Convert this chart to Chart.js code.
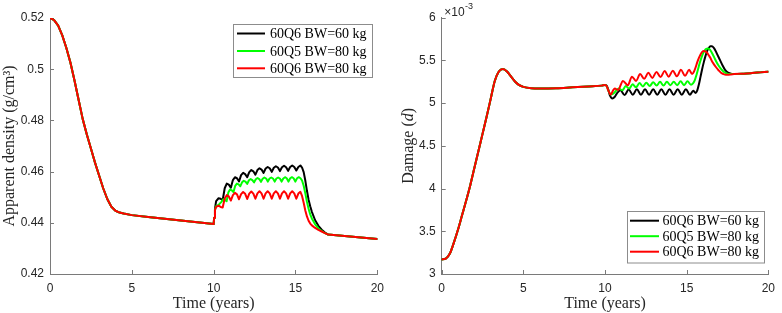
<!DOCTYPE html>
<html><head><meta charset="utf-8">
<script src="https://cdn.jsdelivr.net/npm/chart.js@4.4.1/dist/chart.umd.min.js"></script>
<style>
html,body{margin:0;padding:0;background:#fff;}
#wrap{position:relative;width:782px;height:313px;overflow:hidden;background:#fff;}
.box{position:absolute;top:0;width:391px;height:313px;}
canvas{display:block;}
</style></head><body>
<div id="wrap">
<div class="box" style="left:0"><canvas id="cDensity" width="391" height="313"></canvas></div>
<div class="box" style="left:391px"><canvas id="cDamage" width="391" height="313"></canvas></div>
</div>
<script>
// ---------- labels ----------
const seriesLabels = ['60Q6 BW=60 kg', '60Q5 BW=80 kg', '60Q6 BW=80 kg'];
const seriesColors = ['#000000', '#00ff00', '#ff0000'];
const timeTitle = 'Time (years)';
const densityTitle = 'Apparent density (g/cm³)';

// ---------- apparent density (g/cm^3) ----------
// common part, all three series, 0..10 years
const densPreT = [0, 0.25, 0.5, 0.75, 1, 1.25, 1.5, 1.75, 2, 2.25, 2.5, 2.75, 3, 3.25, 3.5, 3.75, 4, 4.25, 4.5, 5, 6, 7, 8, 9, 10];
const densPre = [0.5200, 0.5192, 0.5170, 0.5132, 0.5083, 0.5025, 0.4955, 0.4880, 0.4805, 0.4745, 0.4690, 0.4635, 0.4585, 0.4535, 0.4493, 0.4463, 0.4447, 0.4440, 0.4436, 0.4430, 0.4423, 0.4416, 0.4409, 0.4402, 0.4395];
// 60Q6 BW=60 kg and 60Q6 BW=80 kg, 10..17 years
const densQ6T = [10.03, 10.08, 10.15, 10.3, 10.425, 10.55, 10.675, 10.8, 10.925, 11.05, 11.175, 11.3, 11.425, 11.55, 11.675, 11.8, 11.925, 12.05, 12.175, 12.3, 12.425, 12.55, 12.675, 12.8, 12.925, 13.05, 13.175, 13.3, 13.425, 13.55, 13.675, 13.8, 13.925, 14.05, 14.175, 14.3, 14.425, 14.55, 14.675, 14.8, 14.925, 15.05, 15.175, 15.3, 15.4, 15.5, 15.6, 15.7, 15.8, 15.9, 16.0, 16.2, 16.4, 16.6, 16.8];
const densBW60 = [0.4420, 0.4455, 0.4485, 0.4496, 0.4494, 0.4488, 0.4535, 0.4553, 0.4549, 0.4537, 0.4567, 0.4578, 0.4574, 0.4562, 0.4586, 0.4595, 0.4590, 0.4578, 0.4598, 0.4606, 0.4601, 0.4588, 0.4606, 0.4613, 0.4608, 0.4595, 0.4612, 0.4618, 0.4613, 0.4599, 0.4615, 0.4621, 0.4616, 0.4602, 0.4617, 0.4623, 0.4617, 0.4603, 0.4618, 0.4624, 0.4618, 0.4604, 0.4618, 0.4624, 0.4616, 0.4598, 0.4565, 0.4525, 0.4490, 0.4465, 0.4443, 0.4410, 0.4388, 0.4373, 0.4362];
const densQ6BW80 = [0.4420, 0.4450, 0.4462, 0.4467, 0.4462, 0.4460, 0.4495, 0.4508, 0.4503, 0.4487, 0.4508, 0.4517, 0.4511, 0.4492, 0.4512, 0.4520, 0.4513, 0.4493, 0.4514, 0.4522, 0.4514, 0.4494, 0.4515, 0.4523, 0.4515, 0.4494, 0.4515, 0.4523, 0.4515, 0.4494, 0.4515, 0.4523, 0.4515, 0.4494, 0.4515, 0.4523, 0.4515, 0.4494, 0.4515, 0.4523, 0.4515, 0.4494, 0.4514, 0.4521, 0.4505, 0.4478, 0.4448, 0.4425, 0.4408, 0.4397, 0.4390, 0.4380, 0.4372, 0.4366, 0.4360];
// 60Q5 BW=80 kg, 10..17 years
const densQ5T = [10.03, 10.08, 10.15, 10.3, 10.475, 10.58, 10.685, 10.79, 10.895, 11.0, 11.105, 11.21, 11.315, 11.42, 11.525, 11.63, 11.735, 11.84, 11.945, 12.05, 12.155, 12.26, 12.365, 12.47, 12.575, 12.68, 12.785, 12.89, 12.995, 13.1, 13.205, 13.31, 13.415, 13.52, 13.625, 13.73, 13.835, 13.94, 14.045, 14.15, 14.255, 14.36, 14.465, 14.57, 14.675, 14.78, 14.885, 14.99, 15.095, 15.2, 15.305, 15.4, 15.5, 15.6, 15.7, 15.8, 15.9, 16.0, 16.2, 16.4, 16.6, 16.8];
const densQ5BW80 = [0.4420, 0.4450, 0.4465, 0.4470, 0.4482, 0.4492, 0.4489, 0.4484, 0.4518, 0.4530, 0.4527, 0.4520, 0.4544, 0.4553, 0.4550, 0.4543, 0.4558, 0.4564, 0.4561, 0.4552, 0.4566, 0.4571, 0.4567, 0.4558, 0.4570, 0.4575, 0.4571, 0.4560, 0.4572, 0.4577, 0.4573, 0.4561, 0.4573, 0.4577, 0.4573, 0.4561, 0.4573, 0.4577, 0.4573, 0.4561, 0.4573, 0.4578, 0.4574, 0.4561, 0.4574, 0.4578, 0.4574, 0.4561, 0.4574, 0.4578, 0.4574, 0.4565, 0.4545, 0.4515, 0.4482, 0.4455, 0.4433, 0.4417, 0.4394, 0.4378, 0.4368, 0.4360];
// common part, 17..20 years
const densPostT = [17, 17.5, 18, 19, 20];
const densPost = [0.4354, 0.4351, 0.4348, 0.4343, 0.4337];

// ---------- damage (x 10^-3) ----------
const dmgPreT = [0, 0.25, 0.5, 0.75, 1, 1.25, 1.5, 1.75, 2, 2.25, 2.5, 2.75, 3, 3.25, 3.5, 3.75, 4, 4.25, 4.5, 4.75, 5, 5.5, 6, 7, 8, 9, 9.8, 10];
const dmgPre = [3.17, 3.18, 3.24, 3.37, 3.52, 3.69, 3.86, 4.04, 4.24, 4.44, 4.64, 4.84, 5.05, 5.26, 5.37, 5.40, 5.37, 5.31, 5.25, 5.21, 5.19, 5.175, 5.172, 5.175, 5.185, 5.195, 5.205, 5.212];
const dmgBW60T = [10.1, 10.2, 10.3, 10.45, 10.6, 10.75, 10.95, 11.2, 11.45, 11.7, 11.95, 12.2, 12.45, 12.7, 12.95, 13.2, 13.45, 13.7, 13.95, 14.2, 14.45, 14.7, 14.95, 15.2, 15.4, 15.55, 15.65, 15.75, 15.85, 15.95, 16.05, 16.15, 16.25, 16.35, 16.45, 16.55, 16.65, 16.75, 16.85, 16.95, 17.05, 17.2, 17.35, 17.5, 17.7];
const dmgBW60 = [5.205, 5.16, 5.09, 5.055, 5.075, 5.12, 5.150, 5.095, 5.160, 5.098, 5.162, 5.098, 5.162, 5.098, 5.162, 5.098, 5.162, 5.098, 5.162, 5.098, 5.162, 5.098, 5.162, 5.098, 5.145, 5.12, 5.15, 5.22, 5.31, 5.40, 5.48, 5.55, 5.61, 5.645, 5.665, 5.665, 5.65, 5.62, 5.58, 5.54, 5.50, 5.44, 5.39, 5.36, 5.345];
const dmgQ5T = [10.1, 10.2, 10.35, 10.5, 10.65, 10.85, 11.06, 11.27, 11.48, 11.69, 11.9, 12.11, 12.32, 12.53, 12.74, 12.95, 13.16, 13.37, 13.58, 13.79, 14.0, 14.21, 14.42, 14.63, 14.84, 15.05, 15.26, 15.4, 15.5, 15.6, 15.7, 15.8, 15.9, 16.0, 16.1, 16.2, 16.3, 16.4, 16.5, 16.6, 16.7, 16.8, 16.95, 17.1, 17.25, 17.4, 17.55, 17.7];
const dmgQ5BW80 = [5.20, 5.15, 5.10, 5.11, 5.14, 5.17, 5.15, 5.20, 5.17, 5.22, 5.185, 5.235, 5.195, 5.24, 5.20, 5.245, 5.205, 5.25, 5.205, 5.25, 5.21, 5.25, 5.21, 5.255, 5.21, 5.255, 5.215, 5.235, 5.27, 5.33, 5.40, 5.47, 5.53, 5.58, 5.615, 5.635, 5.64, 5.63, 5.605, 5.57, 5.53, 5.49, 5.44, 5.40, 5.37, 5.35, 5.34, 5.34];
const dmgQ6BW80T = [10.1, 10.2, 10.35, 10.5, 10.6, 10.8, 11.1, 11.4, 11.65, 11.9, 12.15, 12.4, 12.65, 12.9, 13.15, 13.4, 13.65, 13.9, 14.15, 14.4, 14.65, 14.9, 15.15, 15.33, 15.45, 15.55, 15.65, 15.75, 15.85, 15.95, 16.05, 16.15, 16.25, 16.35, 16.45, 16.55, 16.65, 16.8, 16.95, 17.1, 17.25, 17.4, 17.55, 17.7];
const dmgQ6BW80 = [5.20, 5.15, 5.10, 5.15, 5.17, 5.155, 5.26, 5.21, 5.31, 5.26, 5.34, 5.285, 5.355, 5.295, 5.365, 5.305, 5.375, 5.31, 5.38, 5.315, 5.39, 5.32, 5.39, 5.34, 5.37, 5.42, 5.48, 5.53, 5.57, 5.60, 5.61, 5.605, 5.59, 5.56, 5.53, 5.49, 5.46, 5.42, 5.385, 5.355, 5.34, 5.332, 5.332, 5.336];
const dmgPostT = [17.9, 18.5, 19, 19.5, 20];
const dmgPost = [5.34, 5.345, 5.352, 5.36, 5.368];

// ---------- helpers ----------
function zip(ts, vs, name) {
  if (ts.length !== vs.length) console.error('length mismatch ' + name + ': ' + ts.length + ' vs ' + vs.length);
  const out = [];
  for (let i = 0; i < Math.min(ts.length, vs.length); i++) out.push({x: ts[i], y: vs[i]});
  return out;
}
function series(preT, pre, midT, mid, postT, post, name) {
  return zip(preT, pre, name + 'pre').concat(zip(midT, mid, name), zip(postT, post, name + 'post'));
}
function fmtTick(v) { return String(Number(Number(v).toFixed(4))); }

const TICK = '#262626';
const AXIS = '#7a7a7a';
const SANS = '"Liberation Sans", Arial, sans-serif';
const SERIF = '"Liberation Serif", "Times New Roman", serif';

const inwardTicks = {
  id: 'inwardTicks',
  beforeDatasetsDraw(chart) {
    const {ctx, chartArea: a, scales: {x, y}} = chart;
    ctx.save();
    ctx.strokeStyle = AXIS; ctx.lineWidth = 1;
    ctx.beginPath();
    x.ticks.forEach(t => { const px = Math.round(x.getPixelForValue(t.value)) + 0.5; ctx.moveTo(px, a.bottom); ctx.lineTo(px, a.bottom - 4); });
    y.ticks.forEach(t => { const py = Math.round(y.getPixelForValue(t.value)) + 0.5; ctx.moveTo(a.left, py); ctx.lineTo(a.left + 4, py); });
    ctx.stroke();
    ctx.restore();
  }
};

const boxLegend = {
  id: 'boxLegend',
  afterDatasetsDraw(chart, args, o) {
    const {ctx} = chart;
    ctx.save();
    ctx.fillStyle = '#ffffff';
    ctx.fillRect(o.x, o.y, o.w, o.h);
    ctx.strokeStyle = '#8c8c8c'; ctx.lineWidth = 1;
    ctx.strokeRect(o.x + 0.5, o.y + 0.5, o.w, o.h);
    ctx.font = '14px ' + SERIF;
    ctx.textBaseline = 'middle'; ctx.textAlign = 'left';
    chart.data.datasets.forEach((ds, i) => {
      const yy = o.rowY[i];
      ctx.strokeStyle = ds.borderColor; ctx.lineWidth = 2;
      ctx.beginPath(); ctx.moveTo(o.lineX0, yy); ctx.lineTo(o.lineX1, yy); ctx.stroke();
      ctx.fillStyle = '#000';
      ctx.fillText(ds.label, o.textX, yy + 1);
    });
    ctx.restore();
  }
};

const damageExtras = {
  id: 'damageExtras',
  afterDraw(chart) {
    const {ctx, chartArea: a} = chart;
    ctx.save();
    ctx.fillStyle = TICK;
    ctx.textAlign = 'left'; ctx.textBaseline = 'alphabetic';
    ctx.font = '12px ' + SANS;
    ctx.fillText('×10', a.left + 2.5, 16);
    const w = ctx.measureText('×10').width;
    ctx.font = '9px ' + SANS;
    ctx.fillText('-3', a.left + 2.5 + w + 0.5, 9);
    // y axis title with italic d
    const parts = [['Damage (', '16px ' + SERIF], ['d', 'italic 16px ' + SERIF], [')', '16px ' + SERIF]];
    let total = 0;
    parts.forEach(p => { ctx.font = p[1]; total += ctx.measureText(p[0]).width; });
    ctx.translate(18, (a.top + a.bottom) / 2);
    ctx.rotate(-Math.PI / 2);
    ctx.textBaseline = 'middle';
    let xx = -total / 2;
    parts.forEach(p => { ctx.font = p[1]; ctx.fillText(p[0], xx, 0); xx += ctx.measureText(p[0]).width; });
    ctx.restore();
  }
};

function makeDatasets(data, cubic) {
  return data.map((d, i) => ({
    label: seriesLabels[i],
    data: d,
    borderColor: seriesColors[i],
    backgroundColor: seriesColors[i],
    borderWidth: 2,
    pointRadius: 0,
    fill: false,
    tension: cubic ? 0.4 : 0,
    cubicInterpolationMode: cubic ? 'monotone' : 'default',
    order: 3 - i,
    borderJoinStyle: 'round',
    borderCapStyle: 'round'
  }));
}

function xScale() {
  return {
    type: 'linear', min: 0, max: 20,
    afterFit(s) { s.height = 39; },
    ticks: {stepSize: 5, color: TICK, font: {family: SANS, size: 12}, padding: 7, maxRotation: 0, callback: fmtTick},
    grid: {display: false, drawTicks: false},
    border: {display: true, color: AXIS, width: 1},
    title: {display: true, text: timeTitle, color: TICK, font: {family: SERIF, size: 16}, padding: {top: 0, bottom: 0}}
  };
}

Chart.defaults.font.family = SANS;

new Chart(document.getElementById('cDensity'), {
  type: 'line',
  data: {
    datasets: makeDatasets([
      series(densPreT, densPre, densQ6T, densBW60, densPostT, densPost, 'dBW60'),
      series(densPreT, densPre, densQ5T, densQ5BW80, densPostT, densPost, 'dQ5'),
      series(densPreT, densPre, densQ6T, densQ6BW80, densPostT, densPost, 'dQ6BW80')
    ], false)
  },
  options: {
    responsive: false, animation: false, events: [],
    layout: {padding: {left: 0, right: 10, top: 18, bottom: 0}},
    scales: {
      x: xScale(),
      y: {
        type: 'linear', min: 0.42, max: 0.52,
        afterFit(s) { s.width = 50; },
        ticks: {stepSize: 0.02, color: TICK, font: {family: SANS, size: 12}, padding: 6, callback: fmtTick},
        grid: {display: false, drawTicks: false},
        border: {display: true, color: AXIS, width: 1},
        title: {display: true, text: densityTitle, color: TICK, font: {family: SERIF, size: 16}, padding: {top: 0, bottom: 0}}
      }
    },
    plugins: {
      legend: {display: false}, tooltip: {enabled: false},
      boxLegend: {x: 233, y: 24, w: 139, h: 53, lineX0: 237, lineX1: 265, textX: 270, rowY: [33.5, 51, 68.3]}
    }
  },
  plugins: [inwardTicks, boxLegend]
});

new Chart(document.getElementById('cDamage'), {
  type: 'line',
  data: {
    datasets: makeDatasets([
      series(dmgPreT, dmgPre, dmgBW60T, dmgBW60, dmgPostT, dmgPost, 'mBW60'),
      series(dmgPreT, dmgPre, dmgQ5T, dmgQ5BW80, dmgPostT, dmgPost, 'mQ5'),
      series(dmgPreT, dmgPre, dmgQ6BW80T, dmgQ6BW80, dmgPostT, dmgPost, 'mQ6BW80')
    ], true)
  },
  options: {
    responsive: false, animation: false, events: [],
    layout: {padding: {left: 0, right: 8.7, top: 17.7, bottom: 0}},
    scales: {
      x: xScale(),
      y: {
        type: 'linear', min: 3, max: 6,
        afterFit(s) { s.width = 50.7; },
        ticks: {stepSize: 0.5, color: TICK, font: {family: SANS, size: 12}, padding: 6, callback: fmtTick},
        grid: {display: false, drawTicks: false},
        border: {display: true, color: AXIS, width: 1},
        title: {display: false}
      }
    },
    plugins: {
      legend: {display: false}, tooltip: {enabled: false},
      boxLegend: {x: 236, y: 211, w: 137, h: 51.5, lineX0: 239, lineX1: 268, textX: 271.5, rowY: [220.7, 236.2, 251.7]}
    }
  },
  plugins: [inwardTicks, boxLegend, damageExtras]
});
</script>
</body></html>
